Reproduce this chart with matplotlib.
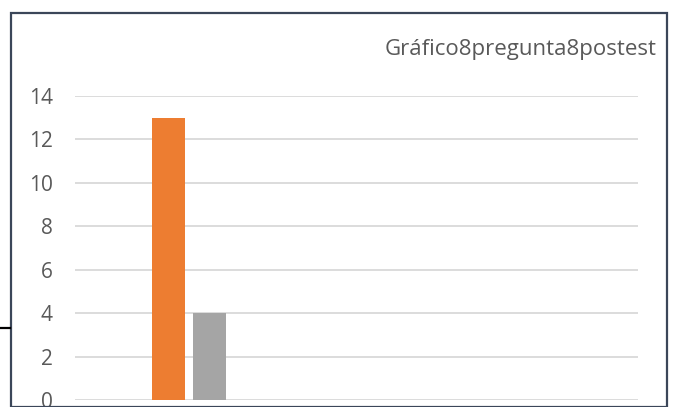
import matplotlib

matplotlib.use("Agg")
import matplotlib.pyplot as plt
from matplotlib.lines import Line2D
from matplotlib.patches import Rectangle
import numpy as np

title = "Gráfico8pregunta8postest"
categories = ["", "", ""]
series_names = ["Serie1", "Serie2", "Serie3"]
series_values = [
    [0, 0, 0],
    [13, 0, 0],
    [4, 0, 0],
]
series_colors = ["#4472C4", "#ED7D31", "#A5A5A5"]
yticks = [0, 2, 4, 6, 8, 10, 12, 14]

W, H = 675, 407
fig = plt.figure(figsize=(W / 100, H / 100), dpi=100)
plt.rcParams["font.family"] = ["Open Sans", "DejaVu Sans"]

# chart frame
fig.patches.append(Rectangle((11 / W, 0), 656 / W, 1 - 12.5 / H, transform=fig.transFigure,
                             fill=False, edgecolor="#3B4659", linewidth=1.6))
fig.lines.append(Line2D([0, 10 / W], [1 - 327.5 / H] * 2, transform=fig.transFigure,
                        color="black", linewidth=1.6))

ax = fig.add_axes([75 / W, 1 - 400 / H, (638 - 75) / W, (400 - 96) / H])
x = np.arange(len(categories))
width = 0.1755
step = 0.218
for i, (name, vals, col) in enumerate(zip(series_names, series_values, series_colors)):
    ax.bar(x + (i - 1) * step, vals, width, color=col, label=name, zorder=3, linewidth=0)

ax.set_xlim(-0.5, len(categories) - 0.5)
ax.set_ylim(0, 14)
ax.set_yticks(yticks)
ax.set_yticklabels([str(t) for t in yticks], fontsize=15, color="#595959")
ax.set_xticks([])
ax.tick_params(axis="y", length=0, pad=16)
ax.grid(axis="y", color="#D9D9D9", linewidth=1.3, zorder=0)
for s in ax.spines.values():
    s.set_visible(False)

fig.text(657 / W, 1 - 50 / H, title, ha="right", va="center", fontsize=16, color="#595959")

fig.savefig("out.png", dpi=100)
